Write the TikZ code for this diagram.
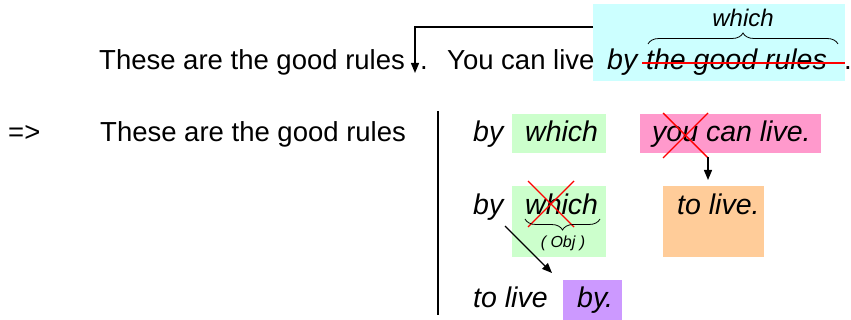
\documentclass[tikz,border=0pt]{standalone}
\usepackage{fontspec}
\setmainfont{Liberation Sans}
\usetikzlibrary{arrows.meta,decorations.pathreplacing}

\definecolor{cyanbg}{HTML}{CCFFFF}
\definecolor{greenbg}{HTML}{CCFFCC}
\definecolor{pinkbg}{HTML}{FF99CC}
\definecolor{orangebg}{HTML}{FFCC99}
\definecolor{purplebg}{HTML}{CC99FF}

\newcommand\upfont{\fontsize{27.5}{30}\selectfont}
\newcommand\itfont{\fontsize{28.5}{30}\selectfont\itshape}
\newcommand\labfont{\fontsize{24}{26}\selectfont\itshape}
\newcommand\objfont{\fontsize{16}{18}\selectfont\itshape}

\tikzset{
  bgbox/.style={draw=none, inner sep=0pt, anchor=north west},
  word/.style={inner sep=0pt, anchor=base west},
  strike/.style={red, line width=2pt},
  cross/.style={red, line width=1.4pt},
  pointer/.style={line width=1.3pt, -{Triangle[length=10pt,width=8pt]}},
  bracetop/.style={decorate, decoration={brace, amplitude=11pt}, line width=0.8pt},
}

\begin{document}
\begin{tikzpicture}[x=1pt, y=-1pt]
\useasboundingbox (0,0) rectangle (851,320);

% coloured backgrounds
\node[bgbox, fill=cyanbg,   minimum width=252pt, minimum height=77pt] (cyanbox)   at (593,4)   {};
\node[bgbox, fill=greenbg,  minimum width=94pt,  minimum height=39pt] (greenA)    at (512,114) {};
\node[bgbox, fill=pinkbg,   minimum width=181pt, minimum height=39pt] (pinkbox)   at (640,114) {};
\node[bgbox, fill=greenbg,  minimum width=94pt,  minimum height=71pt] (greenB)    at (512,186) {};
\node[bgbox, fill=orangebg, minimum width=101pt, minimum height=71pt] (orangebox) at (663,186) {};
\node[bgbox, fill=purplebg, minimum width=59pt,  minimum height=40pt] (purplebox) at (563,280) {};

% first line
\node[word, font=\upfont] (s1)    at (99,70)  {These are the good rules};
\node[word, font=\upfont] (dot1)  at (420,70) {.};
\node[word, font=\upfont] (s2)    at (447,70) {You can live};
\node[word, font=\itfont] (by1)   at (607,70) {by};
\node[word, font=\itfont] (rules) at (646,70) {the good rules};
\node[word, font=\upfont] (dot2)  at (844,70) {.};
\draw[strike] (642,63) -- (845,63);
\draw[bracetop] (648,44) -- (838,44);
\node[inner sep=0pt, anchor=base, font=\labfont] (which1) at (743,27) {which};

% the relative clause is moved back behind "rules"
\coordinate (turnR) at (593,27);
\coordinate (turnL) at (415,27);
\coordinate (tip1)  at (415,73);
\draw[line width=1.3pt, -{Triangle[length=10pt,width=8pt]}] (turnR) -- (turnL) -- (tip1);

% second line
\node[word, font=\upfont] (impl) at (8,142)   {=>};
\node[word, font=\upfont] (s3)   at (100,142) {These are the good rules};
\coordinate (sepTop) at (438,111);
\coordinate (sepBot) at (438,315);
\draw[line width=1.5pt] (sepTop) -- (sepBot);

\node[word, font=\itfont] (by2)    at (473,142) {by};
\node[word, font=\itfont] (which2) at (525,142) {which};
\node[word, font=\itfont] (youcan) at (652,142) {you can live.};
\draw[cross] (663,113) -- (708,158);
\draw[cross] (708,113) -- (663,158);
\coordinate (youEnd) at (708,157);
\coordinate (tip2)   at (708,180);
\draw[pointer] (youEnd) -- (tip2);

% third line
\node[word, font=\itfont] (by3)    at (473,215) {by};
\node[word, font=\itfont] (which3) at (525,215) {which};
\node[word, font=\itfont] (tolive1) at (677,215) {to live.};
\draw[cross] (528,181) -- (574,227);
\draw[cross] (574,181) -- (528,227);
\draw[bracetop, decoration={amplitude=11pt}] (600,219) -- (525,219);
\node[inner sep=0pt, font=\objfont] (obj) at (563,243) {( Obj )};

% "by" moves to the end
\coordinate (byStart) at (505,226);
\coordinate (byTip)   at (552,273);
\draw[pointer] (byStart) -- (byTip);

% fourth line
\node[word, font=\itfont] (tolive2) at (473,307) {to live};
\node[word, font=\itfont] (by4)     at (577,307) {by.};
\end{tikzpicture}
\end{document}
